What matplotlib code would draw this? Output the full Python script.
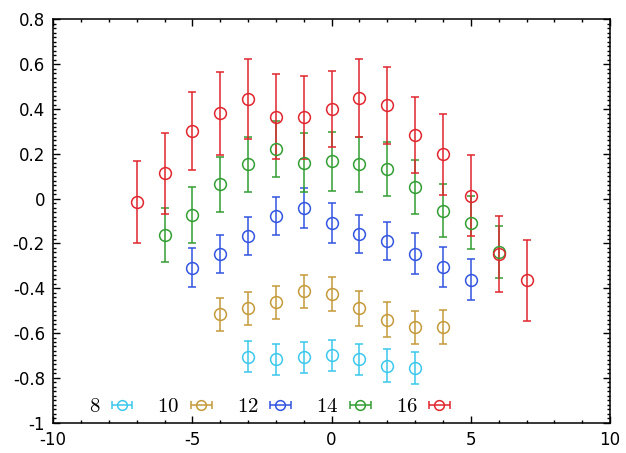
import numpy as np
import matplotlib
matplotlib.use("Agg")
import matplotlib.pyplot as plt
from matplotlib.ticker import MultipleLocator

plt.rcParams['mathtext.fontset'] = 'cm'

# one series per system size L
sizes = [8, 10, 12, 14, 16]
colors = ['#3cc8ec', '#c49a3a', '#3355e0', '#339e33', '#e0262e']

x8 = [-3, -2, -1, 0, 1, 2, 3]
y8 = [-0.705, -0.718, -0.709, -0.700, -0.718, -0.745, -0.757]
e8 = [0.070, 0.068, 0.068, 0.070, 0.070, 0.072, 0.072]

x10 = [-4, -3, -2, -1, 0, 1, 2, 3, 4]
y10 = [-0.517, -0.490, -0.463, -0.414, -0.427, -0.490, -0.540, -0.575, -0.571]
e10 = [0.074, 0.075, 0.075, 0.075, 0.076, 0.078, 0.078, 0.075, 0.076]

x12 = [-5, -4, -3, -2, -1, 0, 1, 2, 3, 4, 5]
y12 = [-0.308, -0.245, -0.168, -0.078, -0.042, -0.110, -0.158, -0.191, -0.245, -0.306, -0.361]
e12 = [0.088, 0.085, 0.085, 0.085, 0.088, 0.090, 0.086, 0.085, 0.090, 0.088, 0.090]

x14 = [-6, -5, -4, -3, -2, -1, 0, 1, 2, 3, 4, 5, 6]
y14 = [-0.162, -0.071, 0.064, 0.153, 0.221, 0.161, 0.166, 0.153, 0.131, 0.051, -0.053, -0.107, -0.239]
e14 = [0.120, 0.125, 0.123, 0.124, 0.125, 0.130, 0.130, 0.122, 0.120, 0.120, 0.117, 0.117, 0.117]

x16 = [-7, -6, -5, -4, -3, -2, -1, 0, 1, 2, 3, 4, 5, 6, 7]
y16 = [-0.013, 0.113, 0.301, 0.381, 0.445, 0.366, 0.364, 0.401, 0.449, 0.416, 0.284, 0.198, 0.014, -0.246, -0.364]
e16 = [0.183, 0.180, 0.175, 0.185, 0.180, 0.190, 0.185, 0.170, 0.175, 0.170, 0.170, 0.180, 0.180, 0.170, 0.180]

series = [(x8, y8, e8), (x10, y10, e10), (x12, y12, e12), (x14, y14, e14), (x16, y16, e16)]

xticks = [-10, -5, 0, 5, 10]
yticks = [-1, -0.8, -0.6, -0.4, -0.2, 0, 0.2, 0.4, 0.6, 0.8]
yticklabels = ['-1', '-0.8', '-0.6', '-0.4', '-0.2', '0', '0.2', '0.4', '0.6', '0.8']

fig = plt.figure(figsize=(6.26, 4.53), dpi=100)
ax = fig.add_axes([0.085, 0.067, 0.8895, 0.89])

handles = []
for (xs, ys, es), c, L in zip(series, colors, sizes):
    ax.errorbar(xs, ys, yerr=es, fmt='o', color=c, ms=8.5, mfc='none', mew=1.1,
                elinewidth=1.1, capsize=3, capthick=1.1)
    # horizontal-bar proxy for the key
    h = ax.errorbar([np.nan], [np.nan], xerr=[1], fmt='o', color=c, ms=7, mfc='none',
                    mew=1.1, elinewidth=1.1, capsize=3, capthick=1.1)
    handles.append((h, r'$%d$' % L))

ax.set_xlim(-10, 10)
ax.set_ylim(-1, 0.8)
ax.set_xticks(xticks)
ax.set_xticklabels([str(t) for t in xticks])
ax.set_yticks(yticks)
ax.set_yticklabels(yticklabels)
ax.xaxis.set_minor_locator(MultipleLocator(1))
ax.yaxis.set_minor_locator(MultipleLocator(0.02))
ax.tick_params(which='both', direction='in', top=True, right=True, labelsize=12, width=1)
ax.tick_params(which='major', length=5, pad=6)
ax.tick_params(which='minor', length=2.5)
for s in ax.spines.values():
    s.set_linewidth(1.1)

ax.legend([h for h, _ in handles], [l for _, l in handles], loc='lower left',
          bbox_to_anchor=(0.03, -0.03), ncol=5, frameon=False, markerfirst=False,
          fontsize=15, handlelength=1.1, handletextpad=0.5, columnspacing=1.15)

fig.savefig('out.png', dpi=100)
